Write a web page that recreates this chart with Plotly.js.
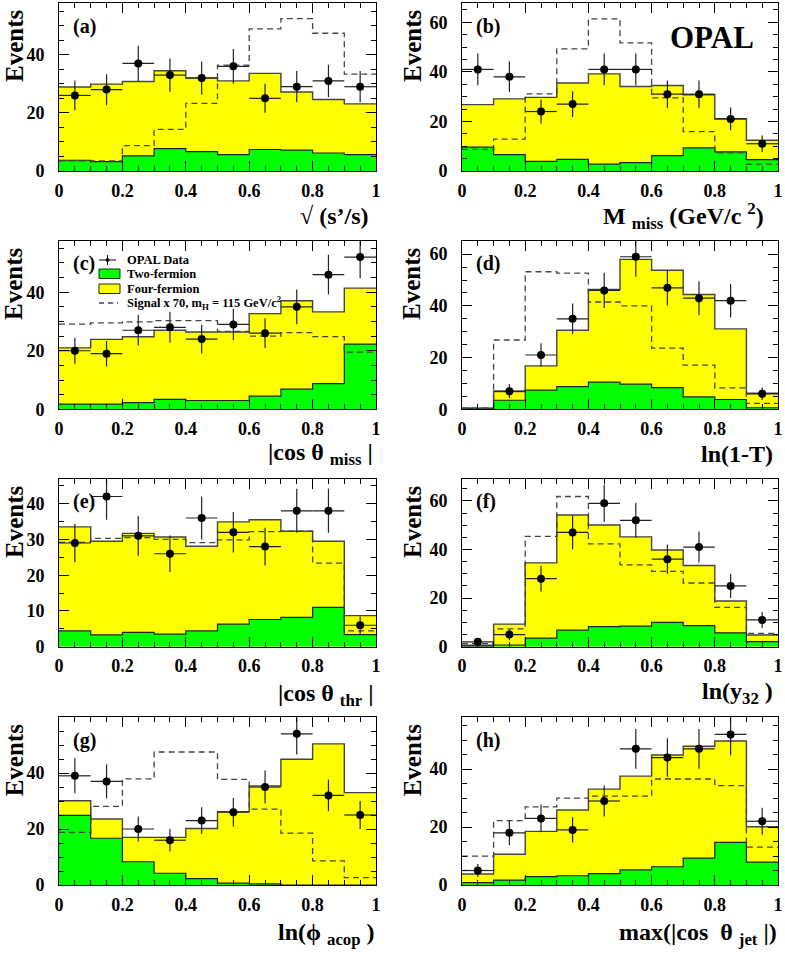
<!DOCTYPE html>
<html><head><meta charset="utf-8">
<script src="https://cdn.plot.ly/plotly-3.0.1.min.js"></script>
<style>html,body{margin:0;padding:0;background:#fff;} #plot{width:785px;height:956px;}</style>
</head><body><div id="plot"></div>
<script>
// ---------- DATA ----------
const binEdges   = [0, 0.1, 0.2, 0.3, 0.4, 0.5, 0.6, 0.7, 0.8, 0.9, 1.0];
const binCenters = [0.05, 0.15, 0.25, 0.35, 0.45, 0.55, 0.65, 0.75, 0.85, 0.95];

// (a) sqrt(s'/s)
const aTotalBkg = [28.9, 29.9, 30.8, 34.5, 32.0, 31.0, 33.6, 27.2, 24.6, 23.1];
const aTwoFerm  = [3.7, 3.2, 5.2, 7.7, 6.7, 5.6, 7.4, 7.2, 6.2, 5.6];
const aSignal   = [3.5, 3.5, 8.7, 14.3, 23.3, 36.4, 48.9, 52.4, 47.4, 33.3];
const aData     = [26, 28, 37, 33, 32, 36, 25, 29, 31, 29];

// (b) M_miss
const bTotalBkg = [26.8, 29.1, 29.7, 35.5, 39.2, 34.1, 34.5, 30.8, 21.1, 12.4];
const bTwoFerm  = [9.6, 6.6, 3.9, 4.7, 2.8, 3.4, 6.2, 9.3, 7.7, 4.6];
const bSignal   = [8.7, 12.9, 31.1, 49.3, 61.4, 51.7, 29.5, 15.9, 7.3, 2.8];
const bData     = [41, 38, 24, 27, 41, 41, 31, 31, 21, 11];

// (c) |cos theta_miss|
const cTotalBkg = [21.0, 23.9, 24.8, 27.0, 26.4, 26.4, 32.7, 37.1, 33.3, 41.4];
const cTwoFerm  = [1.8, 1.8, 2.3, 3.4, 3.0, 3.0, 4.5, 6.9, 8.8, 22.3];
const cSignal   = [29.1, 29.5, 29.9, 30.3, 30.3, 26.6, 25.0, 26.2, 24.8, 19.5];
const cData     = [20, 19, 27, 28, 24, 29, 26, 35, 46, 52];

// (d) ln(1-T)
const dTotalBkg = [0.4, 6.9, 16.8, 30.6, 46.4, 58.0, 53.8, 44.4, 31.1, 6.2];
const dTwoFerm  = [0.4, 3.5, 7.4, 8.8, 10.5, 9.7, 8.4, 4.8, 3.8, 0.6];
const dSignal   = [0.4, 26.8, 53.2, 52.7, 41.5, 40.0, 23.7, 17.1, 8.3, 2.3];
const dData     = [null, 7, 21, 35, 46, 59, 47, 43, 42, 6];

// (e) |cos theta_thr|
const eTotalBkg = [33.5, 29.5, 31.7, 30.7, 28.1, 34.9, 35.5, 32.3, 29.5, 8.7];
const eTwoFerm  = [4.4, 3.3, 4.0, 3.5, 4.4, 6.3, 7.6, 8.2, 11.0, 3.4];
const eSignal   = [29.2, 30.3, 30.5, 30.0, 29.1, 29.9, 32.2, 32.3, 23.4, 4.4];
const eData     = [29, 42, 31, 26, 36, 32, 28, 38, 38, 6];

// (f) ln(y32)
const fTotalBkg = [0.6, 9.3, 34.5, 54.2, 50.1, 45.2, 39.8, 33.4, 18.8, 4.8];
const fTwoFerm  = [0.2, 0.7, 3.5, 6.8, 8.3, 8.5, 10.0, 8.7, 5.7, 2.1];
const fSignal   = [1.3, 7.3, 45.4, 61.8, 42.3, 33.7, 31.0, 26.2, 16.2, 5.5];
const fData     = [2, 5, 28, 47, 59, 52, 36, 41, 25, 11];

// (g) ln(phi_acop)
const gTotalBkg = [30.1, 23.6, 17.0, 17.0, 20.2, 26.2, 35.4, 44.9, 50.4, 33.0];
const gTwoFerm  = [24.9, 16.7, 8.3, 4.2, 2.3, 0.7, 0.4, 0.0, 0.0, 0.0];
const gSignal   = [18.8, 28.1, 37.9, 47.5, 47.5, 37.7, 27.1, 18.5, 8.6, 2.6];
const gData     = [39, 37, 20, 16, 23, 26, 35, 54, 32, 25];

// (h) max(|cos theta_jet|)
const hTotalBkg = [3.8, 10.6, 18.5, 25.9, 33.1, 37.6, 44.9, 47.9, 49.7, 20.1];
const hTwoFerm  = [0.8, 1.7, 2.9, 3.2, 3.9, 5.2, 6.3, 9.3, 14.7, 7.9];
const hSignal   = [10.0, 22.2, 27.0, 30.0, 30.7, 30.7, 36.6, 36.6, 34.3, 13.1];
const hData     = [5, 18, 23, 19, 29, 47, 44, 47, 52, 22];

const panelLetters = ['(a)', '(b)', '(c)', '(d)', '(e)', '(f)', '(g)', '(h)'];
const xTitles = [
  '\u221A (s\u2019/s)',
  'M <sub>miss</sub> (GeV/c <sup>2</sup>)',
  '|cos \u03B8 <sub>miss</sub> |',
  'ln(1-T)',
  '|cos \u03B8 <sub>thr</sub> |',
  'ln(y<sub>32</sub> )',
  'ln(\u03D5 <sub>acop</sub> )',
  'max(|cos  \u03B8 <sub>jet</sub> |)'
];
const yTitle = 'Events';
const legendLabels = ['OPAL Data', 'Two-fermion', 'Four-fermion', 'Signal x 70, m<sub>H</sub> = 115 GeV/c<sup>2</sup>'];

// ---------- LAYOUT / STYLE ----------
const W = 785, H = 956;
const px = x => x / W;
const py = y => 1 - y / H;
const colX = [[59, 376], [462, 778]];
const rowY = [[3, 171], [241, 409.3], [479, 646.7], [717.3, 885]];
const yMax  = [57.8, 67.8, 57.5, 65.1, 46.9, 69.0, 59.9, 57.9];
const yDtk  = [20, 20, 20, 20, 10, 20, 20, 20];
const titleRight = [371, 766, 375, 775, 375, 775, 377, 779];
const titleY = [216, 216, 454, 454, 695, 693, 934, 934];

const panels = [
  [aTotalBkg, aTwoFerm, aSignal, aData],
  [bTotalBkg, bTwoFerm, bSignal, bData],
  [cTotalBkg, cTwoFerm, cSignal, cData],
  [dTotalBkg, dTwoFerm, dSignal, dData],
  [eTotalBkg, eTwoFerm, eSignal, eData],
  [fTotalBkg, fTwoFerm, fSignal, fData],
  [gTotalBkg, gTwoFerm, gSignal, gData],
  [hTotalBkg, hTwoFerm, hSignal, hData]
];

const FONT = 'Liberation Serif, Times New Roman, serif';
const YELLOW = '#ffff00', GREEN = '#00ff00';
const stepY = v => v.concat([v[v.length - 1]]);

const traces = [];
const layout = {
  width: W, height: H,
  margin: {l: 0, r: 0, t: 0, b: 0},
  paper_bgcolor: '#fff', plot_bgcolor: '#fff',
  showlegend: false,
  annotations: [], shapes: []
};

panels.forEach((p, i) => {
  const [tot, two, sig, dat] = p;
  const n = i + 1;
  const xa = n === 1 ? 'x' : 'x' + n;
  const ya = n === 1 ? 'y' : 'y' + n;
  const col = i % 2, row = Math.floor(i / 2);
  const [x0, x1] = colX[col];
  const [yt, yb] = rowY[row];

  traces.push({
    x: binEdges, y: stepY(tot), xaxis: xa, yaxis: ya, type: 'scatter', mode: 'lines',
    line: {shape: 'hv', color: '#444', width: 1.4}, fill: 'tozeroy', fillcolor: YELLOW, hoverinfo: 'skip'
  });
  traces.push({
    x: binEdges, y: stepY(two), xaxis: xa, yaxis: ya, type: 'scatter', mode: 'lines',
    line: {shape: 'hv', color: '#222', width: 1.2}, fill: 'tozeroy', fillcolor: GREEN, hoverinfo: 'skip'
  });
  traces.push({
    x: binEdges, y: stepY(sig), xaxis: xa, yaxis: ya, type: 'scatter', mode: 'lines',
    line: {shape: 'hv', color: '#444', width: 1.3, dash: '6px,4px'}, hoverinfo: 'skip'
  });
  traces.push({
    x: binCenters, y: dat, xaxis: xa, yaxis: ya, type: 'scatter', mode: 'markers',
    marker: {color: '#000', size: 8},
    error_y: {type: 'data', array: dat.map(v => v == null ? null : Math.sqrt(v)), color: '#222', thickness: 1.2, width: 0},
    error_x: {type: 'constant', value: 0.05, color: '#222', thickness: 1.2, width: 0}
  });

  const xName = n === 1 ? 'xaxis' : 'xaxis' + n;
  const yName = n === 1 ? 'yaxis' : 'yaxis' + n;
  layout[xName] = {
    domain: [px(x0), px(x1)], anchor: ya, range: [0, 1], fixedrange: true,
    showline: true, linecolor: '#000', linewidth: 1, mirror: 'allticks',
    ticks: 'inside', ticklen: 10, tickwidth: 1, tickcolor: '#000',
    dtick: 0.2, tick0: 0, showgrid: false, zeroline: false,
    minor: {ticks: 'inside', ticklen: 5, dtick: 0.05, tick0: 0, tickcolor: '#000', showgrid: false},
    tickfont: {family: FONT, size: 18, color: '#000', weight: 'bold'},
    ticklabelstandoff: 3
  };
  layout[yName] = {
    domain: [py(yb), py(yt)], anchor: xa, range: [0, yMax[i]], fixedrange: true,
    showline: true, linecolor: '#000', linewidth: 1, mirror: 'allticks',
    ticks: 'inside', ticklen: 10, tickwidth: 1, tickcolor: '#000',
    dtick: yDtk[i], tick0: 0, showgrid: false, zeroline: false,
    minor: {ticks: 'inside', ticklen: 5, dtick: 5, tick0: 0, tickcolor: '#000', showgrid: false},
    tickfont: {family: FONT, size: 18, color: '#000', weight: 'bold'},
    ticklabelstandoff: 10
  };

  // panel letter
  layout.annotations.push({
    xref: 'paper', yref: 'paper', x: px(x0 + 12), y: py(yt + 23), xanchor: 'left', yanchor: 'middle',
    text: panelLetters[i], showarrow: false, font: {family: FONT, size: 20, color: '#000', weight: 'bold'}
  });
  // y title
  layout.annotations.push({
    xref: 'paper', yref: 'paper', x: px(col === 0 ? 14 : 412), y: py(yt + 43), xanchor: 'center', yanchor: 'middle',
    textangle: -90, text: yTitle, showarrow: false, font: {family: FONT, size: 25, color: '#000', weight: 'bold'}
  });
  // x title
  layout.annotations.push({
    xref: 'paper', yref: 'paper', x: px(titleRight[i]), y: py(titleY[i]), xanchor: 'right', yanchor: 'middle',
    text: xTitles[i], showarrow: false, font: {family: FONT, size: 24, color: '#000', weight: 'bold'}
  });
});

// OPAL label
layout.annotations.push({
  xref: 'paper', yref: 'paper', x: px(712), y: py(37), xanchor: 'center', yanchor: 'middle',
  text: 'OPAL', showarrow: false, font: {family: FONT, size: 31, color: '#000', weight: 'bold'}
});

// Legend in panel (c)
const legY = [260, 274, 288.5, 303];
legendLabels.forEach((t, k) => {
  layout.annotations.push({
    xref: 'paper', yref: 'paper', x: px(125), y: py(legY[k]), xanchor: 'left', yanchor: 'middle',
    text: t, showarrow: false, font: {family: FONT, size: 12.5, color: '#000', weight: 'bold'}
  });
});
const L = {type: 'line', xref: 'paper', yref: 'paper'};
layout.shapes.push(Object.assign({}, L, {x0: px(99), x1: px(116), y0: py(260), y1: py(260), line: {color: '#000', width: 1}}));
layout.shapes.push(Object.assign({}, L, {x0: px(107.5), x1: px(107.5), y0: py(255), y1: py(265), line: {color: '#000', width: 1}}));
layout.shapes.push({type: 'circle', xref: 'paper', yref: 'paper', x0: px(106), x1: px(109), y0: py(258.5), y1: py(261.5), fillcolor: '#000', line: {color: '#000', width: 1}});
layout.shapes.push({type: 'rect', xref: 'paper', yref: 'paper', x0: px(99), x1: px(120), y0: py(269), y1: py(278.5), fillcolor: GREEN, line: {color: '#222', width: 1}});
layout.shapes.push({type: 'rect', xref: 'paper', yref: 'paper', x0: px(99), x1: px(120), y0: py(284), y1: py(293.5), fillcolor: YELLOW, line: {color: '#222', width: 1}});
layout.shapes.push(Object.assign({}, L, {x0: px(99), x1: px(118), y0: py(303), y1: py(303), line: {color: '#444', width: 1.3, dash: '5px,4px'}}));

Plotly.newPlot('plot', traces, layout, {staticPlot: true, displayModeBar: false});
</script>
</body></html>
